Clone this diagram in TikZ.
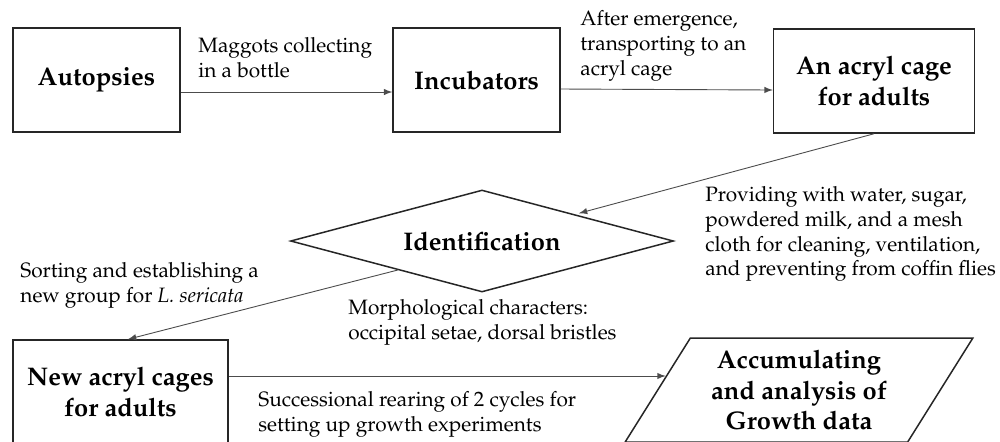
\documentclass[tikz,border=0pt]{standalone}
\usepackage[T1]{fontenc}
\usepackage{mathpazo}
\usepackage{xcolor}
\usetikzlibrary{shapes.geometric,arrows}
\definecolor{myline}{gray}{0.15}
\definecolor{myarrow}{gray}{0.3}
\tikzstyle{arrow} = [->,>=latex,color=myarrow,line width=0.45pt]
\tikzstyle{stepbox} = [draw=myline,rectangle,line width=0.75pt,minimum height=52pt,inner sep=0pt,align=center,font=\fontsize{12.75}{15.3}\selectfont\bfseries]
\tikzstyle{lbl} = [anchor=north west,inner sep=0pt,align=left,font=\fontsize{10.4}{12.4}\selectfont]

\begin{document}
\begin{tikzpicture}[x=0.5pt,y=-0.5pt]
        \useasboundingbox (0,0) rectangle (1000,441);
        \clip (0,0) rectangle (1000,441);
        % Step
        \draw (96.5,80) node[stepbox,minimum width=83.5pt] (auto) {Autopsies};
        \draw (476.5,80) node[stepbox,minimum width=83.5pt] (incub) {Incubators};
        \draw (874,81) node[stepbox,minimum width=100.5pt] (cage) {An acryl cage\\for adults};
        \draw (482,241) node[stepbox,diamond,aspect=3.75,minimum width=191.5pt,minimum height=51pt] (ident) {Identification};
        \draw (120.5,392) node[stepbox,minimum width=107.5pt] (newc) {New acryl cages\\for adults};
        \draw (799,390) node[stepbox,trapezium,trapezium left angle=56.6,trapezium right angle=123.4,trapezium stretches=true,minimum width=174pt] (data) {Accumulating\\and analysis of\\Growth data};
        % edges
        \draw[arrow] ([yshift=-6pt]auto.east) -- ([yshift=-6pt]incub.west);
        \draw[arrow] ([yshift=-4.5pt]incub.east) -- ([yshift=-4.5pt]cage.west);
        \draw[arrow,shorten >=2pt] (cage.south) -- (ident.16);
        \draw[arrow] (ident.199) -- ([xshift=3.75pt]newc.north);
        \draw[arrow] (newc.east |- data.174.5) -- (data.174.5);
        % labels
        \node[lbl] (l1) at (198,37) {Maggots collecting\\in a bottle};
        \node[lbl] (l2) at (580,10) {After emergence,\\transporting to an\\acryl cage};
        \node[lbl] (l3) at (705,186) {Providing with water, sugar,\\powdered milk, and a mesh\\cloth for cleaning, ventilation,\\and preventing from coffin flies};
        \node[lbl] (l4) at (20,262) {Sorting and establishing a\\new group for \textit{L. sericata}};
        \node[lbl] (l5) at (348,299) {Morphological characters:\\occipital setae, dorsal bristles};
        \node[lbl] (l6) at (258,391) {Successional rearing of 2 cycles for\\setting up growth experiments};
\end{tikzpicture}
\end{document}
